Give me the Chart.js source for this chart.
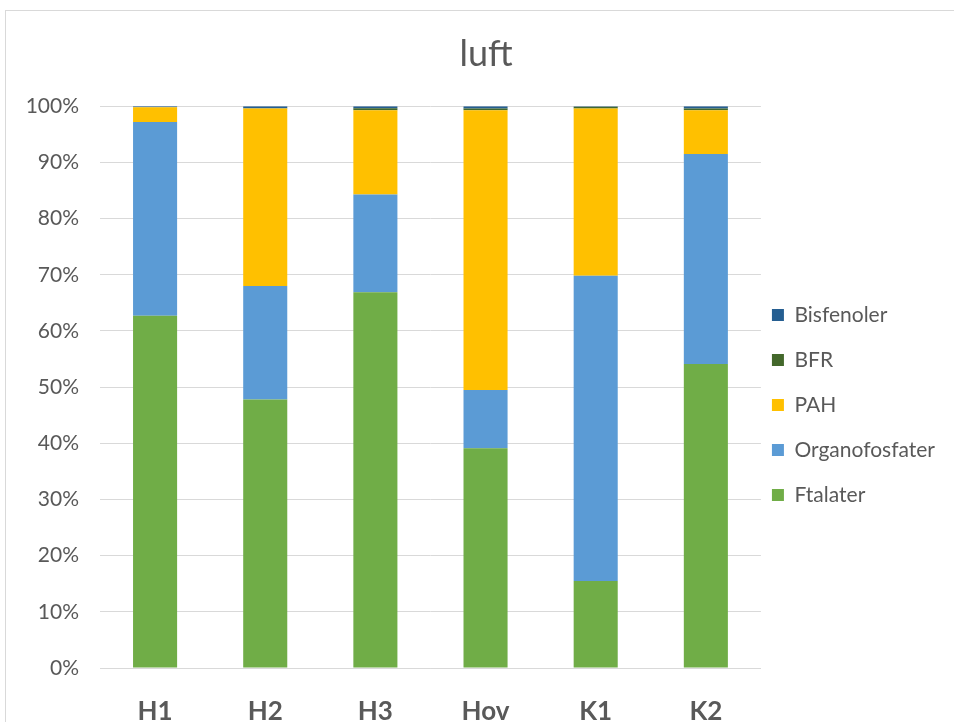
<!DOCTYPE html>
<html>
<head>
<meta charset="utf-8">
<script src="https://cdn.jsdelivr.net/npm/chart.js@4/dist/chart.umd.min.js"></script>
<style>
  html, body { margin: 0; padding: 0; background: #fff; overflow: hidden; }
  #frame { position: absolute; left: 5px; top: 10px; width: 1000px; height: 800px; border: 1px solid #D9D9D9; box-sizing: border-box; }
  #wrap { position: absolute; left: 0; top: 0; width: 954px; height: 722px; }
</style>
</head>
<body>
<div id="frame"></div>
<div id="wrap"><canvas id="c" width="954" height="722"></canvas></div>
<script>
const categories = ['H1', 'H2', 'H3', 'Hov', 'K1', 'K2'];
const ftalater       = [62.7, 47.8, 66.9, 39.1, 15.5, 54.1];
const organofosfater = [34.5, 20.2, 17.4, 10.4, 54.3, 37.4];
const pah            = [2.6, 31.6, 15.0, 49.8, 29.8, 7.8];
const bfr            = [0.0, 0.05, 0.35, 0.3, 0.3, 0.3];
const bisfenoler     = [0.2, 0.35, 0.35, 0.4, 0.1, 0.4];
const yTicks = [0, 10, 20, 30, 40, 50, 60, 70, 80, 90, 100];

const FONT = 'Lato, "Open Sans", sans-serif';
const TXT = '#595959';

const ds = (label, data, color) => ({
  label, data, backgroundColor: color, borderWidth: 0,
  barPercentage: 0.4, categoryPercentage: 1.0
});

// nudge the legend a little closer to the plot, as in the original
const legendShift = {
  id: 'legendShift',
  afterLayout(chart) {
    const lg = chart.legend;
    if (lg) { lg.left -= 13; lg.right -= 13; }
  }
};

new Chart(document.getElementById('c'), {
  type: 'bar',
  data: {
    labels: categories,
    datasets: [
      ds('Ftalater', ftalater, '#70AD47'),
      ds('Organofosfater', organofosfater, '#5B9BD5'),
      ds('PAH', pah, '#FFC000'),
      ds('BFR', bfr, '#43682B'),
      ds('Bisfenoler', bisfenoler, '#255E91')
    ]
  },
  plugins: [legendShift],
  options: {
    responsive: false,
    animation: false,
    layout: { padding: { left: 14, right: -4, top: 0, bottom: 0 } },
    plugins: {
      title: {
        display: true, text: 'luft', color: TXT,
        font: { family: FONT, size: 36, weight: 'normal' },
        padding: { top: 33, bottom: 30 }
      },
      legend: {
        position: 'right', reverse: true,
        title: { display: true, text: ' ', font: { size: 10 }, padding: { top: 38, bottom: 38 } },
        labels: {
          color: TXT, boxWidth: 12, boxHeight: 12, padding: 24,
          font: { family: FONT, size: 21 }
        }
      },
      tooltip: { enabled: false }
    },
    scales: {
      x: {
        stacked: true,
        grid: { display: false, drawTicks: false },
        border: { display: true, color: '#D9D9D9' },
        ticks: { color: TXT, padding: 28, font: { family: FONT, size: 26, weight: 'bold' } },
        afterFit: s => { s.height = 54; }
      },
      y: {
        stacked: true, min: 0, max: 100,
        afterBuildTicks: s => { s.ticks = yTicks.map(v => ({ value: v })); },
        grid: { color: '#D9D9D9', drawTicks: false },
        border: { display: false },
        ticks: { color: TXT, padding: 21, font: { family: FONT, size: 21 }, callback: v => v + '%' },
        afterFit: s => { s.width = 86; }
      }
    }
  }
});
</script>
</body>
</html>
